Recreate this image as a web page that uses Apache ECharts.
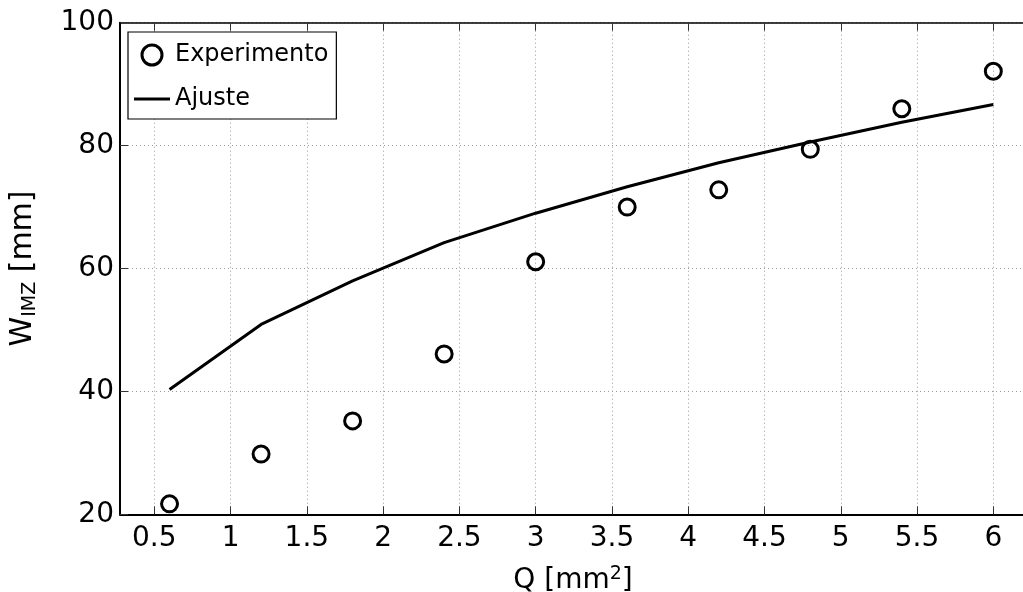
<!DOCTYPE html>
<html>
<head>
<meta charset="utf-8">
<script src="https://cdn.jsdelivr.net/npm/echarts@6/dist/echarts.min.js"></script>
<style>
html,body{margin:0;padding:0;background:#fff;}
#c{width:1023px;height:592px;}
</style>
</head>
<body>
<div id="c"></div>
<script>
const qValues = [0.6, 1.2, 1.8, 2.4, 3.0, 3.6, 4.2, 4.8, 5.4, 6.0];
const experimento = [21.7, 29.8, 35.2, 46.1, 61.1, 70.0, 72.8, 79.4, 86.0, 92.1];
const ajuste = [40.3, 50.9, 58.0, 64.2, 69.0, 73.3, 77.2, 80.6, 83.8, 86.7];
const xTicks = [0.5, 1, 1.5, 2, 2.5, 3, 3.5, 4, 4.5, 5, 5.5, 6];
const yTicks = [20, 40, 60, 80, 100];

const FONT = "'DejaVu Sans', 'Liberation Sans', Arial, sans-serif";
const chart = echarts.init(document.getElementById('c'), null, {renderer: 'canvas'});

const gridLine = {show: true, lineStyle: {color: '#9a9a9a', type: [1, 3], width: 1}};
const tickStyle = {color: '#333', width: 1};

const option = {
  backgroundColor: '#fff',
  animation: false,
  grid: {left: 120, top: 22.7, width: 919.1, height: 491.6, containLabel: false, outerBoundsMode: 'none'},
  xAxis: [{
    type: 'value', min: 0.2752, max: 6.3,
    position: 'bottom',
    axisLine: {show: true, onZero: false, lineStyle: {color: '#000', width: 2}},
    axisTick: {show: true, inside: true, length: 8, customValues: xTicks, lineStyle: tickStyle},
    axisLabel: {show: true, customValues: xTicks, color: '#000', fontFamily: FONT, fontSize: 28, margin: 10,
      formatter: v => String(v)},
    splitLine: gridLine,
    name: '{n|Q [mm}{s|2}{n|]}',
    nameLocation: 'middle', nameGap: 50,
    nameTextStyle: {padding: [0, 13, 0, 0], rich: {
      n: {fontFamily: FONT, fontSize: 28, color: '#000'},
      s: {fontFamily: FONT, fontSize: 19, color: '#000', verticalAlign: 'top', padding: [0, 0, 14, 0]}
    }}
  }, {
    type: 'value', min: 0.2752, max: 6.3,
    position: 'top',
    axisLine: {show: true, onZero: false, lineStyle: {color: '#000', width: 1.5}},
    axisTick: {show: true, inside: true, length: 8, customValues: xTicks, lineStyle: tickStyle},
    axisLabel: {show: false},
    splitLine: {show: false}
  }],
  yAxis: {
    type: 'value', min: 20, max: 100, interval: 20,
    axisLine: {show: true, onZero: false, lineStyle: {color: '#000', width: 2}},
    axisTick: {show: true, inside: true, length: 8, lineStyle: tickStyle},
    axisLabel: {color: '#000', fontFamily: FONT, fontSize: 28, margin: 6},
    splitLine: gridLine,
    name: '{n|W}{s|IMZ}{n| [mm]}',
    nameLocation: 'middle', nameGap: 80,
    nameTextStyle: {rich: {
      n: {fontFamily: FONT, fontSize: 30, color: '#000'},
      s: {fontFamily: FONT, fontSize: 19, color: '#000', verticalAlign: 'bottom', padding: [14, 0, 0, 0]}
    }}
  },
  legend: {
    left: 128, top: 32, orient: 'vertical',
    backgroundColor: '#fff', borderColor: '#000', borderWidth: 1.2,
    padding: [11, 8, 8, 6],
    itemWidth: 36, itemHeight: 20, itemGap: 20,
    textStyle: {fontFamily: FONT, fontSize: 24, color: '#000'},
    data: [
      {name: 'Experimento', icon: 'circle', itemStyle: {color: 'transparent', borderColor: '#000', borderWidth: 3}},
      {name: 'Ajuste', icon: 'path://M0,0L36,0L36,3L0,3Z', itemStyle: {color: '#000', borderWidth: 0}}
    ]
  },
  series: [{
    name: 'Experimento', type: 'scatter',
    data: qValues.map((q, i) => [q, experimento[i]]),
    symbol: 'circle', symbolSize: 16,
    itemStyle: {color: 'transparent', borderColor: '#000', borderWidth: 3, opacity: 1},
    z: 3
  }, {
    name: 'Ajuste', type: 'line',
    data: qValues.map((q, i) => [q, ajuste[i]]),
    showSymbol: false, symbol: 'none',
    lineStyle: {color: '#000', width: 3},
    itemStyle: {color: '#000'},
    z: 2
  }]
};
chart.setOption(option);
</script>
</body>
</html>
